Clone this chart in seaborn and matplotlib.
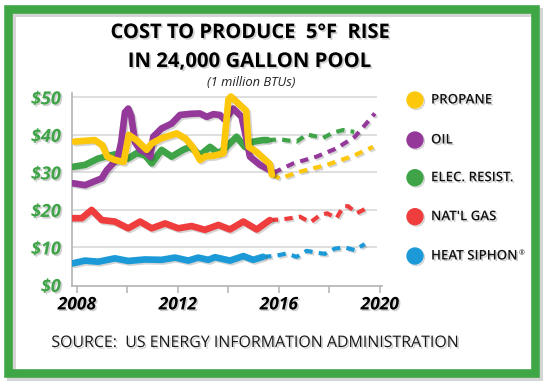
import matplotlib
matplotlib.use("Agg")
import numpy as np
import pandas as pd
import seaborn as sns
import matplotlib.pyplot as plt
import matplotlib.patheffects as pe
from matplotlib.lines import Line2D
from matplotlib.patches import Rectangle
from matplotlib.text import Annotation
from matplotlib import font_manager as fm

# ---------------- data ----------------
propane_hist_years = [2007.9, 2008.7, 2009.0, 2009.2, 2009.5, 2009.85, 2010.05, 2010.36, 2010.76,
                      2010.96, 2011.35, 2011.95, 2012.3, 2012.6, 2012.87, 2013.1, 2013.4, 2013.8,
                      2014.0, 2014.1, 2014.7, 2014.8, 2015.1, 2015.64, 2015.72]
propane_hist_vals = [38.2, 38.6, 37.3, 34.2, 33.3, 32.8, 40.0, 38.6, 36.0,
                     37.7, 39.1, 40.4, 39.0, 36.6, 33.3, 34.3, 34.4, 35.1,
                     49.5, 50.2, 46.4, 36.8, 35.5, 32.2, 29.4]
propane_proj_years = [2015.72, 2016.04, 2016.83, 2017.89, 2018.94, 2019.73]
propane_proj_vals = [29.4, 28.4, 30.2, 32.0, 34.4, 36.8]

oil_hist_years = [2007.85, 2008.32, 2008.98, 2009.18, 2009.37, 2009.6, 2009.75, 2009.9, 2010.03,
                  2010.15, 2010.3, 2010.5, 2010.7, 2010.9, 2011.02, 2011.35, 2011.75, 2012.08,
                  2012.5, 2012.87, 2013.14, 2013.4, 2013.66, 2013.86, 2014.19, 2014.52, 2014.72,
                  2014.85, 2015.25, 2015.64, 2015.78]
oil_hist_vals = [27.1, 26.6, 28.4, 30.6, 32.0, 33.5, 38.0, 46.0, 47.0,
                 45.0, 38.0, 36.0, 35.5, 34.2, 39.5, 41.7, 43.0, 45.3,
                 45.6, 45.7, 44.8, 45.5, 45.3, 44.0, 47.0, 44.8, 38.6,
                 34.2, 32.0, 30.6, 29.9]
oil_proj_years = [2015.78, 2016.57, 2017.49, 2018.28, 2019.01, 2019.8]
oil_proj_vals = [29.9, 32.4, 34.2, 36.4, 39.5, 45.7]

elec_hist_years = [2007.85, 2008.32, 2008.84, 2009.37, 2009.7, 2010.03, 2010.36, 2010.69, 2010.96,
                   2011.35, 2011.75, 2012.2, 2012.48, 2012.87, 2013.27, 2013.6, 2013.86, 2014.32,
                   2014.65, 2014.98, 2015.37, 2015.55]
elec_hist_vals = [31.5, 32.0, 33.7, 34.6, 35.1, 33.7, 35.1, 34.6, 32.4,
                  36.0, 34.2, 36.0, 36.8, 34.6, 36.8, 35.1, 36.4, 39.5,
                  36.8, 38.2, 38.6, 38.6]
elec_proj_years = [2015.55, 2016.04, 2016.7, 2017.1, 2017.75, 2018.15, 2018.55, 2018.98]
elec_proj_vals = [38.6, 38.8, 38.2, 40.1, 39.2, 40.6, 41.3, 40.8]

gas_hist_years = [2007.82, 2008.19, 2008.58, 2008.98, 2009.5, 2010.03, 2010.5, 2010.96, 2011.49,
                  2012.01, 2012.54, 2013.07, 2013.6, 2014.06, 2014.59, 2015.12, 2015.64]
gas_hist_vals = [17.8, 17.8, 20.0, 17.3, 16.9, 15.1, 16.9, 15.1, 16.4,
                 15.1, 15.7, 14.7, 16.0, 14.8, 16.9, 14.8, 17.3]
gas_proj_years = [2015.64, 2016.17, 2016.83, 2017.25, 2017.62, 2017.91, 2018.28, 2018.55, 2018.74,
                  2019.08, 2019.54]
gas_proj_vals = [17.3, 17.5, 18.2, 16.7, 18.6, 19.1, 17.8, 20.9, 21.0, 19.1, 20.7]

siphon_hist_years = [2007.85, 2008.32, 2008.84, 2009.5, 2010.03, 2010.69, 2011.35, 2011.88, 2012.41,
                     2012.8, 2013.2, 2013.47, 2013.86, 2014.06, 2014.59, 2014.98, 2015.37]
siphon_hist_vals = [5.8, 6.5, 6.2, 7.1, 6.4, 6.8, 6.7, 7.3, 6.5,
                    7.3, 6.7, 7.4, 6.8, 6.5, 7.7, 6.7, 7.5]
siphon_proj_years = [2015.37, 2015.9, 2016.3, 2016.7, 2017.1, 2017.5, 2017.82, 2018.22, 2018.61,
                     2019.0, 2019.4]
siphon_proj_vals = [7.5, 7.8, 8.4, 7.5, 9.1, 8.6, 8.3, 9.7, 10.0, 9.3, 10.9]

series_names = ["PROPANE", "OIL", "ELEC. RESIST.", "NAT'L GAS", "HEAT SIPHON"]
series_colors = ["#fdc70c", "#94399a", "#3ea447", "#ef3d3d", "#1b9ad7"]

x_ticks = [2008, 2010, 2012, 2014, 2016, 2018, 2020]
x_tick_labels = ["2008", "", "2012", "", "2016", "", "2020"]
y_ticks = [0, 10, 20, 30, 40, 50]
y_tick_labels = ["\\$0", "\\$10", "\\$20", "\\$30", "\\$40", "\\$50"]

title_lines = ["COST TO PRODUCE  5°F  RISE", "IN 24,000 GALLON POOL"]
subtitle = "(1 million BTUs)"
source_text = "SOURCE:  US ENERGY INFORMATION ADMINISTRATION"

# ---------------- fonts ----------------
sns.set_theme(style="white")
available = {f.name for f in fm.fontManager.ttflist}
def pick(*names):
    for n in names:
        if n in available:
            return n
    return "DejaVu Sans"
main_font = pick("Open Sans", "Lato", "DejaVu Sans")
narrow_font = pick("Liberation Sans Narrow", "Open Sans", "DejaVu Sans")
plt.rcParams["font.family"] = [main_font, "DejaVu Sans"]

# ---------------- figure ----------------
W, H = 550, 389
fig = plt.figure(figsize=(W / 100, H / 100), dpi=100)
fig.patch.set_facecolor("white")

def fx(px):
    return px / W
def fy(py):
    return 1 - py / H

# green frame with shadow
fig.add_artist(Rectangle((fx(11), fy(376)), fx(527) - fx(0), fy(0) - fy(364),
                         transform=fig.transFigure, fill=False, ec="#888888", lw=6.5, alpha=0.35))
fig.add_artist(Rectangle((fx(8.3), fy(372.5)), fx(535) - fx(8.3), fy(9.2) - fy(372.5),
                         transform=fig.transFigure, fill=False, ec="#3fa646", lw=6.2))

ax = fig.add_axes([fx(71.7), fy(285.7), fx(381.7) - fx(71.7), fy(93) - fy(285.7)])
ax.set_facecolor("none")
ax.set_xlim(2007.79, 2020.07)
ax.set_ylim(-0.19, 51.15)

ax.hlines([10, 20, 30, 40, 50], 2007.79, 2019.9, color="#dcdcdc", lw=1.3, zorder=0)

shadow = [pe.SimpleLineShadow(offset=(1.2, -1.2), shadow_color="k", alpha=0.18), pe.Normal()]

hist = [(propane_hist_years, propane_hist_vals), (oil_hist_years, oil_hist_vals),
        (elec_hist_years, elec_hist_vals), (gas_hist_years, gas_hist_vals),
        (siphon_hist_years, siphon_hist_vals)]
proj = [(propane_proj_years, propane_proj_vals), (oil_proj_years, oil_proj_vals),
        (elec_proj_years, elec_proj_vals), (gas_proj_years, gas_proj_vals),
        (siphon_proj_years, siphon_proj_vals)]

order = [4, 3, 2, 1, 0]
for i in order:
    hx, hy = hist[i]
    px_, py_ = proj[i]
    df_p = pd.DataFrame({"year": px_, "cost": py_})
    sns.lineplot(data=df_p, x="year", y="cost", ax=ax, color=series_colors[i], lw=3.0,
                 estimator=None, sort=False, zorder=3 + (4 - i) * 0.1)
    ln = ax.lines[-1]
    ln.set_dashes((2.0, 1.5))
    ln.set_dash_capstyle("butt")
    ln.set_path_effects(shadow)
    df_h = pd.DataFrame({"year": hx, "cost": hy})
    sns.lineplot(data=df_h, x="year", y="cost", ax=ax, color=series_colors[i], lw=4.8,
                 estimator=None, sort=False, zorder=4 + (4 - i) * 0.1)
    ln = ax.lines[-1]
    ln.set_solid_capstyle("round")
    ln.set_solid_joinstyle("round")
    ln.set_path_effects(shadow)

ax.set_xlabel("")
ax.set_ylabel("")
for s in ["top", "right"]:
    ax.spines[s].set_visible(False)
for s in ["left", "bottom"]:
    ax.spines[s].set_color("#b3b3b3")
    ax.spines[s].set_linewidth(1.2)

txt_shadow = [pe.withSimplePatchShadow(offset=(1.2, -1.2), shadow_rgbFace="#777777", alpha=0.35)]

ax.set_xticks(x_ticks)
ax.set_xticklabels(x_tick_labels, fontweight="bold", fontstyle="italic", fontsize=12.5,
                   color="black")
ax.set_yticks(y_ticks)
ax.set_yticklabels(y_tick_labels, fontweight="bold", fontstyle="italic", fontsize=13,
                   color="#3ea447")
ax.tick_params(axis="x", direction="out", length=5, width=1.1, color="#b3b3b3", pad=2,
               bottom=True)
ax.tick_params(axis="y", length=0, pad=8, left=False)
for t in ax.get_xticklabels() + ax.get_yticklabels():
    t.set_path_effects(txt_shadow)

# titles
r = fig.canvas.get_renderer()
def fit(t, target):
    w = t.get_window_extent(renderer=r).width
    t.set_fontsize(t.get_fontsize() * target / w)

t1 = fig.text(fx(250), fy(33), title_lines[0], ha="center", va="center", fontsize=15,
              fontweight="bold", color="black", path_effects=txt_shadow)
t2 = fig.text(fx(250), fy(62), title_lines[1], ha="center", va="center", fontsize=15,
              fontweight="bold", color="black", path_effects=txt_shadow)
fit(t1, 280)
fit(t2, 244)
t3 = fig.text(fx(251), fy(83), subtitle, ha="center", va="center", fontsize=8.5,
              fontstyle="italic", color="#222222")
fit(t3, 88)

src = fig.text(fx(253.5), fy(343), source_text, ha="center", va="center", fontsize=10.5,
               color="#1a1a1a", path_effects=txt_shadow)
fit(src, 407)

# legend
leg_y = [100, 140, 177.7, 216.7, 256]
leg_texts = []
for i, name in enumerate(series_names):
    fig.add_artist(Line2D([fx(415)], [fy(leg_y[i])], marker="o", ms=11.5, color=series_colors[i],
                          transform=fig.transFigure, path_effects=[
                              pe.SimpleLineShadow(offset=(1, -1), alpha=0.2), pe.Normal()]))
    lt = fig.text(fx(431), fy(leg_y[i]), name, ha="left", va="center", fontsize=10.5,
                  family=[narrow_font, "DejaVu Sans"], fontweight="semibold", color="#111111",
                  path_effects=txt_shadow)
    leg_texts.append(lt)
w_ref = leg_texts[2].get_window_extent(renderer=r).width
scale = 83 / w_ref
for lt in leg_texts:
    lt.set_fontsize(lt.get_fontsize() * scale)

reg = Annotation("®", xy=(1.0, 0.95), xycoords=leg_texts[4], xytext=(1, 0),
                 textcoords="offset points", ha="left", va="top", fontsize=5, color="#111111")
fig.add_artist(reg)

fig.savefig("out.png", dpi=100, facecolor="white")
